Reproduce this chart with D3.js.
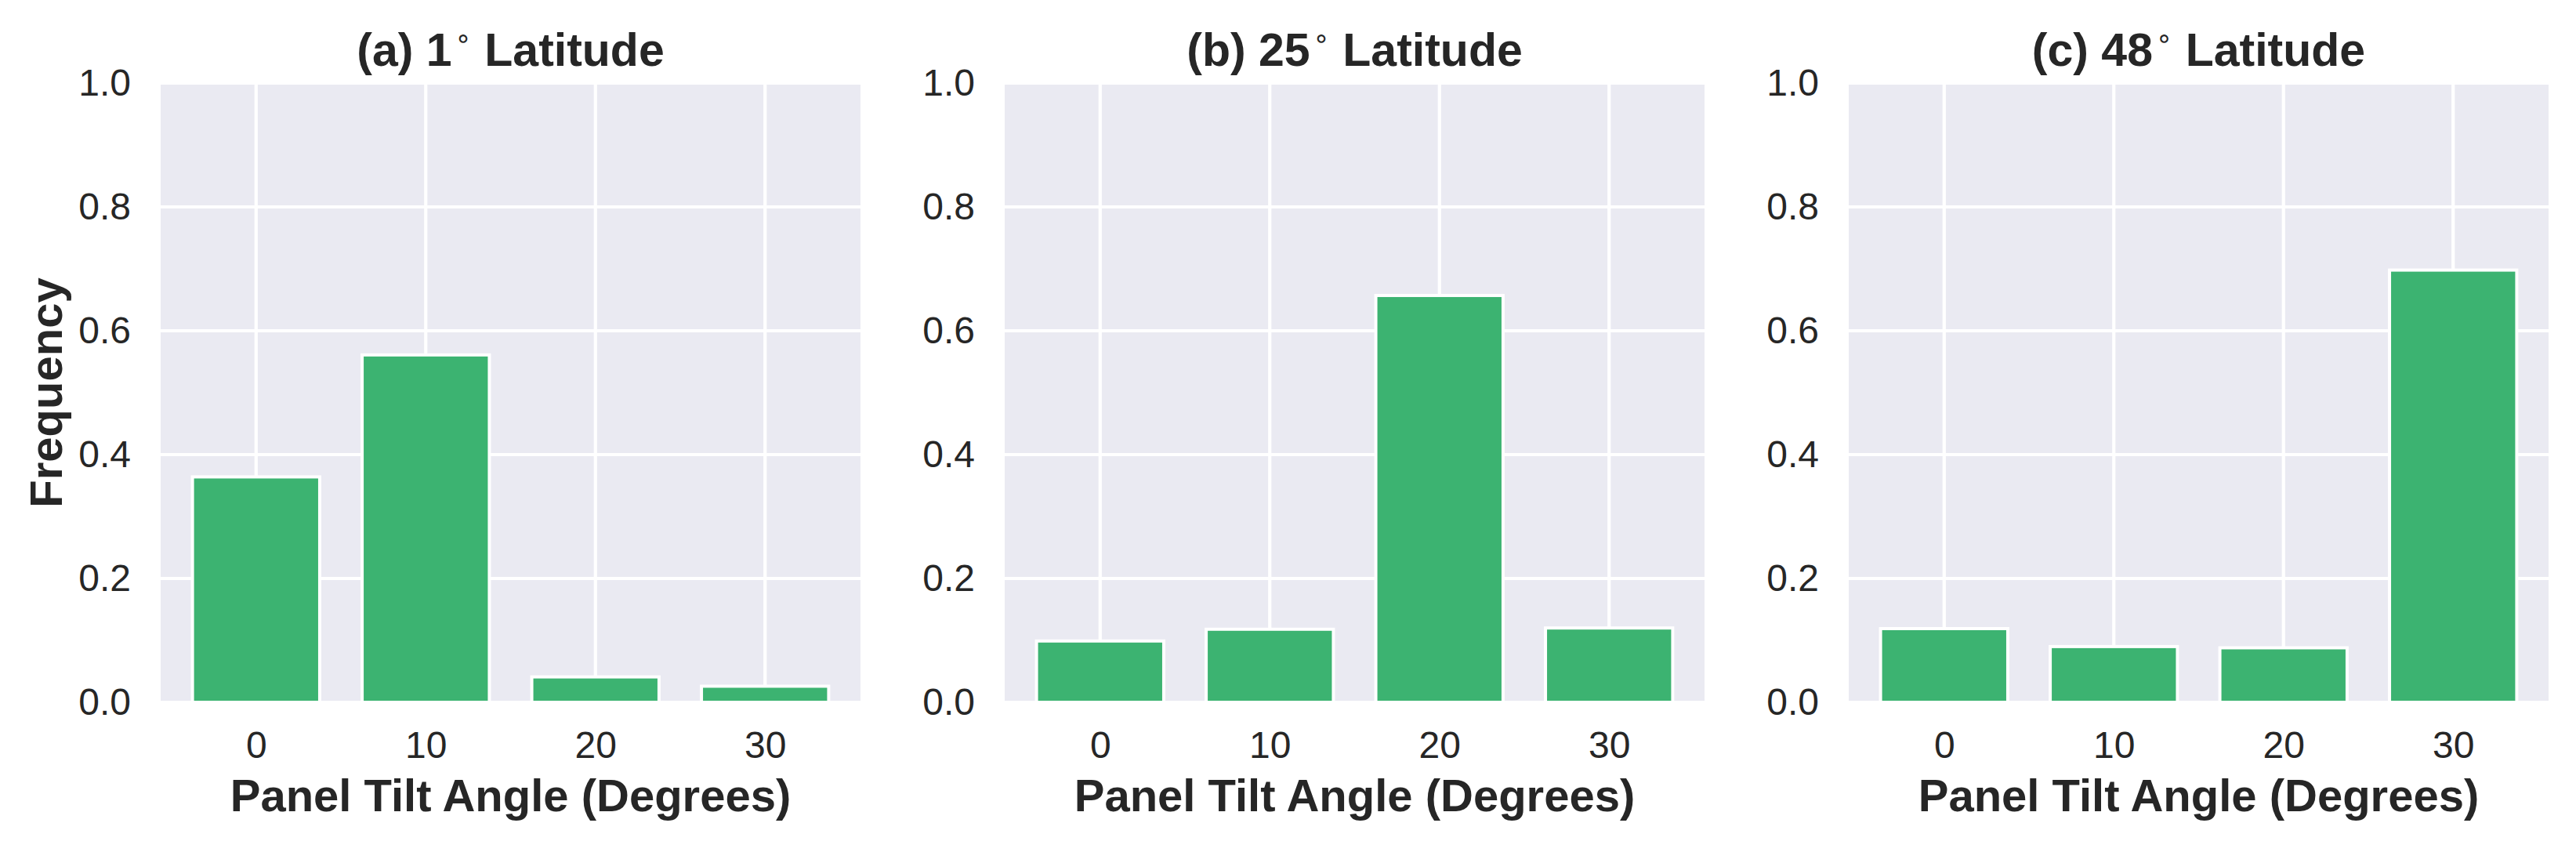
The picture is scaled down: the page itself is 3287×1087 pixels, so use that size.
<!DOCTYPE html>
<html lang="en">
    <head>
        <meta charset="utf-8">
        <title>Panel Tilt Angle Frequency</title>
        <script type="text/javascript" src="https://cdnjs.cloudflare.com/ajax/libs/d3/7.8.5/d3.min.js"></script>
        <style>
            body { margin: 0; background: #fff; }
            svg text { font-family: "Liberation Sans", Arial, Helvetica, sans-serif; fill: #262626; }
        </style>
    </head>
    <body>
        <div id="chart"></div>
        <script type="text/javascript">
            // tilt angle categories (x) and bar width in degrees
            var angles = [0, 10, 20, 30];
            var barWidth = 7.5;
            var yTicks = [0, 0.2, 0.4, 0.6, 0.8, 1.0];

            // one small array per latitude
            var panelLetters = ["(a)", "(b)", "(c)"];
            var latitudes = [1, 25, 48];
            var freqLat1  = [0.364, 0.561, 0.041, 0.026];
            var freqLat25 = [0.099, 0.118, 0.657, 0.120];
            var freqLat48 = [0.119, 0.090, 0.088, 0.698];
            var panelValues = [freqLat1, freqLat25, freqLat48];

            draw();

            function draw(){
                var W = 3287, H = 1087,
                    plotTop = 106, plotBottom = 896,
                    firstLeft = 205, panelW = 893, panelStep = 1077,
                    barColor = "#3cb371", bgColor = "#eaeaf2";

                var svg = d3.select("#chart").append("svg")
                    .attr("width", W)
                    .attr("height", H);

                // x domain like matplotlib: data limits plus 5% margin
                var lo = d3.min(angles) - barWidth / 2,
                    hi = d3.max(angles) + barWidth / 2,
                    pad = (hi - lo) * 0.05;

                var yScale = d3.scaleLinear().domain([0, 1]).range([plotBottom, plotTop]);

                panelValues.forEach(function(values, p){
                    var left = firstLeft + p * panelStep;
                    var xScale = d3.scaleLinear()
                        .domain([lo - pad, hi + pad])
                        .range([left, left + panelW]);

                    var g = svg.append("g");

                    g.append("clipPath").attr("id", "clip" + p)
                        .append("rect")
                        .attr("x", left).attr("y", plotTop)
                        .attr("width", panelW).attr("height", plotBottom - plotTop);

                    // background
                    g.append("rect")
                        .attr("x", left).attr("y", plotTop)
                        .attr("width", panelW).attr("height", plotBottom - plotTop)
                        .attr("fill", bgColor);

                    // grid lines
                    g.selectAll(".hgrid").data(yTicks).enter().append("line")
                        .attr("x1", left).attr("x2", left + panelW)
                        .attr("y1", function(d){ return yScale(d); })
                        .attr("y2", function(d){ return yScale(d); })
                        .attr("stroke", "#fff").attr("stroke-width", 4.2);
                    g.selectAll(".vgrid").data(angles).enter().append("line")
                        .attr("x1", function(d){ return xScale(d); })
                        .attr("x2", function(d){ return xScale(d); })
                        .attr("y1", plotTop).attr("y2", plotBottom)
                        .attr("stroke", "#fff").attr("stroke-width", 4.2);

                    // bars
                    g.append("g").attr("clip-path", "url(#clip" + p + ")")
                        .selectAll("rect").data(values).enter().append("rect")
                        .attr("x", function(d, i){ return xScale(angles[i] - barWidth / 2); })
                        .attr("y", function(d){ return yScale(d); })
                        .attr("width", function(d, i){ return xScale(angles[i] + barWidth / 2) - xScale(angles[i] - barWidth / 2); })
                        .attr("height", function(d){ return yScale(0) - yScale(d); })
                        .attr("fill", barColor)
                        .attr("stroke", "#fff")
                        .attr("stroke-width", 4);

                    // axes
                    var xAxis = d3.axisBottom(xScale).tickValues(angles).tickSize(0).tickPadding(37);
                    var yAxis = d3.axisLeft(yScale).tickValues(yTicks).tickSize(0).tickPadding(38)
                        .tickFormat(d3.format(".1f"));

                    var gx = g.append("g").attr("transform", "translate(0," + plotBottom + ")").call(xAxis);
                    var gy = g.append("g").attr("transform", "translate(" + left + ",0)").call(yAxis);
                    [gx, gy].forEach(function(a){
                        a.select(".domain").remove();
                        a.selectAll("text")
                            .style("font-family", "'Liberation Sans', Arial, sans-serif")
                            .style("font-size", "48px")
                            .attr("fill", "#262626");
                    });

                    // title with superscript degree ring
                    var cx = left + panelW / 2;
                    var title = g.append("text")
                        .attr("x", cx).attr("y", 84)
                        .attr("text-anchor", "middle")
                        .style("font-size", "59px")
                        .style("font-weight", "bold");
                    title.append("tspan").text(panelLetters[p] + " " + latitudes[p]);
                    title.append("tspan")
                        .attr("dx", 4).attr("dy", -24)
                        .style("font-family", "'DejaVu Sans', sans-serif")
                        .style("font-weight", "normal")
                        .style("font-size", "34px")
                        .text("\u2218");
                    title.append("tspan").attr("dy", 24).text(" Latitude");

                    // x label
                    g.append("text")
                        .attr("x", cx).attr("y", 1035)
                        .attr("text-anchor", "middle")
                        .style("font-size", "58px")
                        .style("font-weight", "bold")
                        .text("Panel Tilt Angle (Degrees)");

                    // y label only on first panel
                    if (p === 0) {
                        g.append("text")
                            .attr("transform", "translate(79," + ((plotTop + plotBottom) / 2) + ") rotate(-90)")
                            .attr("text-anchor", "middle")
                            .style("font-size", "58px")
                            .style("font-weight", "bold")
                            .text("Frequency");
                    }
                });
            }
        </script>
    </body>
</html>
